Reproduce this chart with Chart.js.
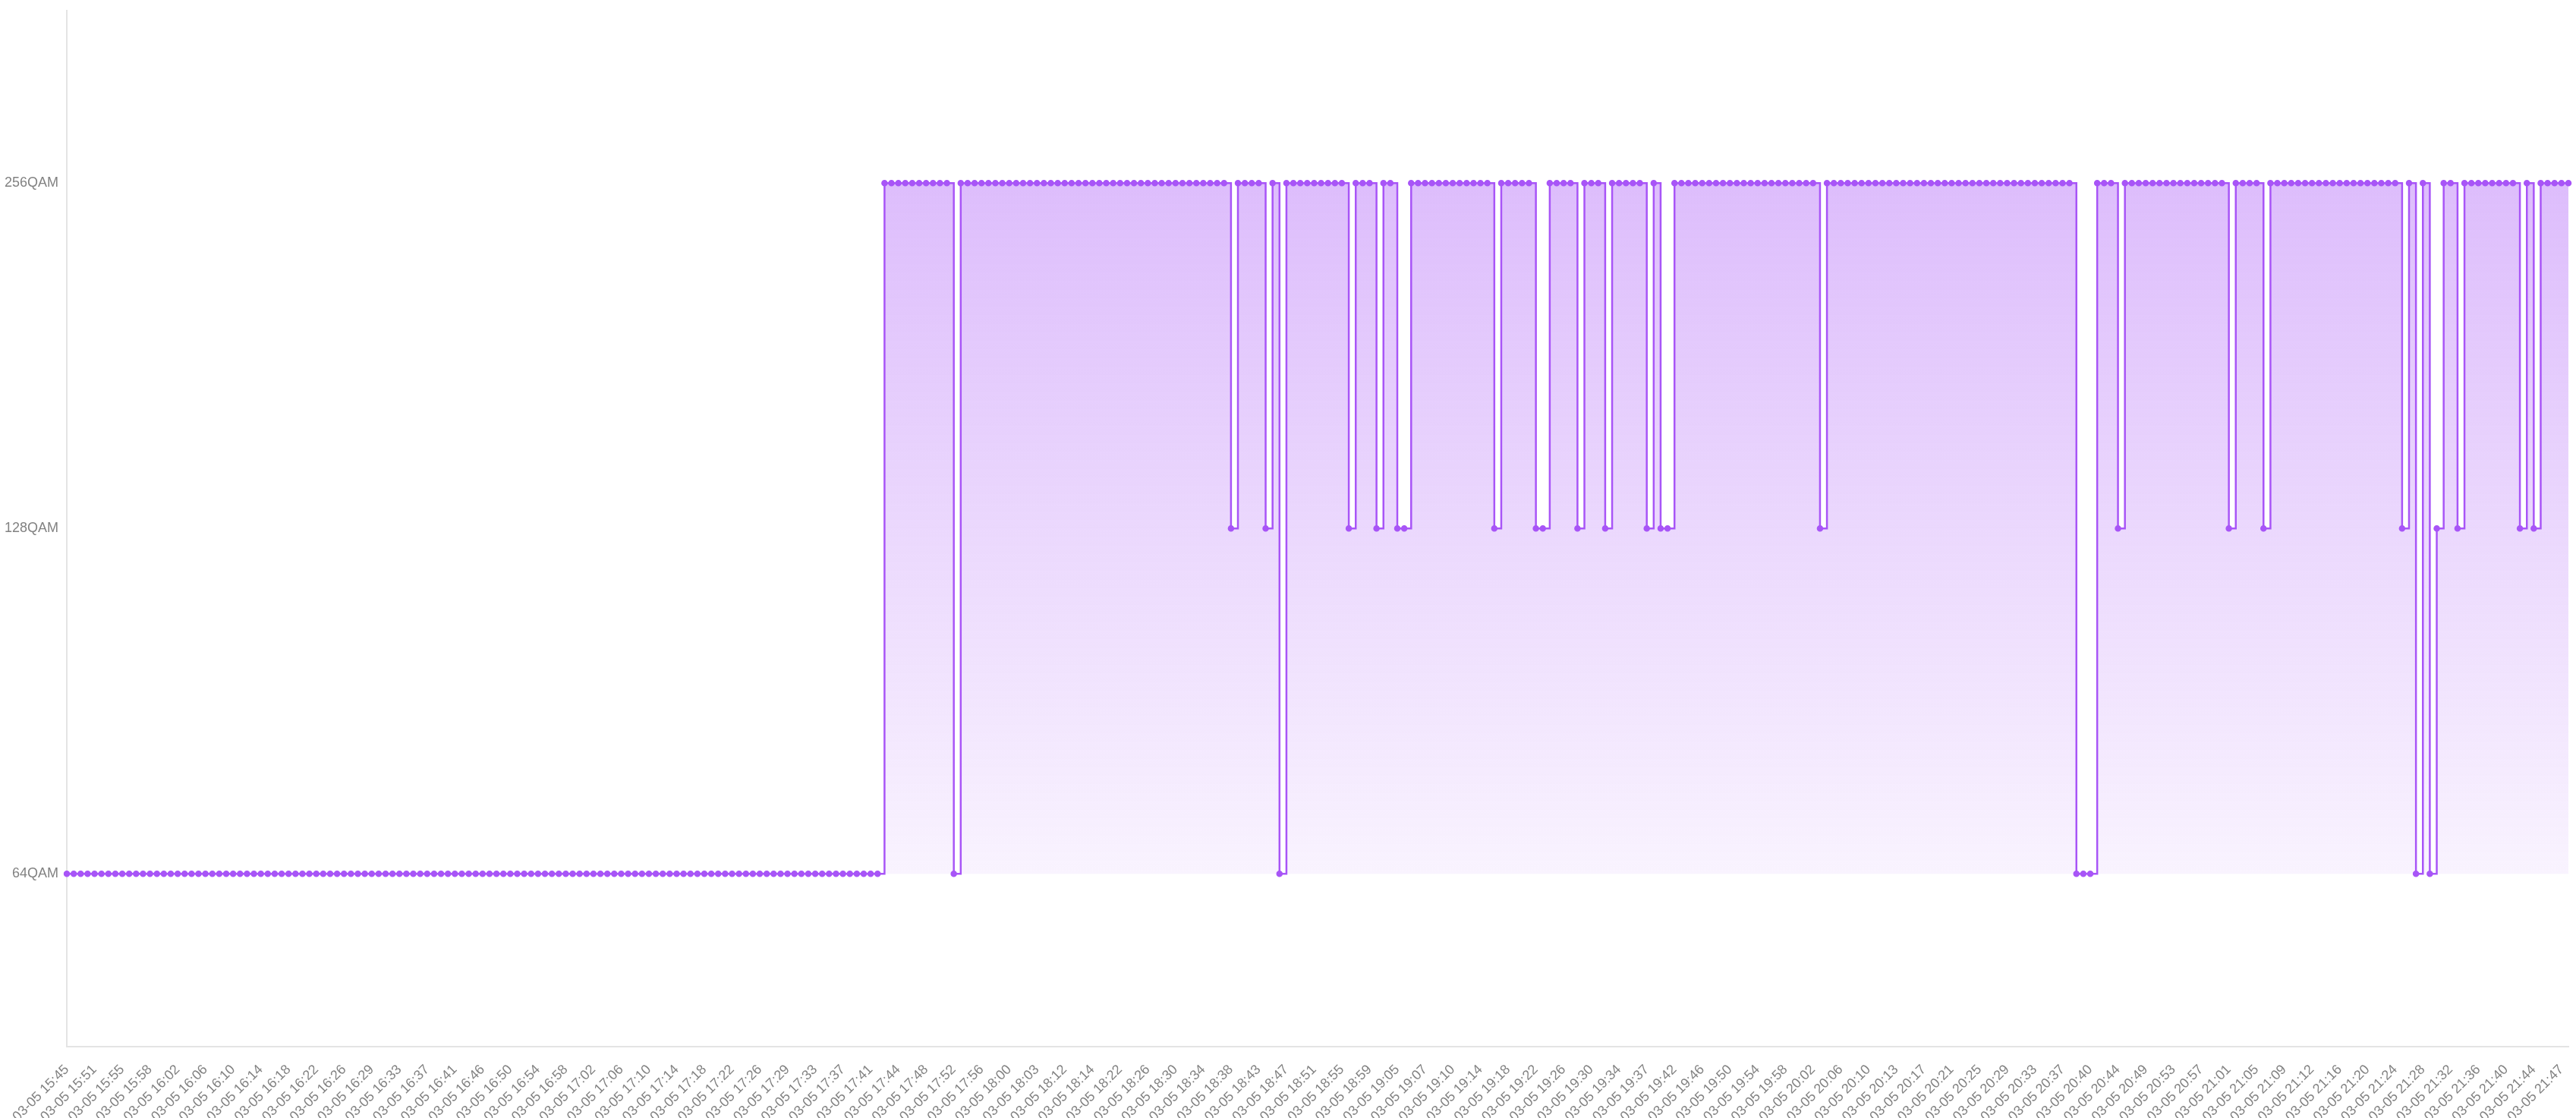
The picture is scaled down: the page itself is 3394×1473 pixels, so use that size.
<!DOCTYPE html>
<html>
<head>
<meta charset="utf-8">
<script src="https://cdn.jsdelivr.net/npm/chart.js@4.4.1/dist/chart.umd.min.js"></script>
<style>
  html, body { margin: 0; padding: 0; background: #ffffff; overflow: hidden; }
  #wrap { width: 3394px; height: 1473px; overflow: hidden; }
</style>
</head>
<body>
<div id="wrap"><canvas id="qamChart" width="3394" height="1494"></canvas></div>
<script>
// Modulacija po minutu (64 / 128 / 256 QAM)
let dan = "03-05";

// vidljive oznake na x osi (svaka 4. tacka)
let tickTimes = [
    "15:45", "15:51", "15:55", "15:58", "16:02", "16:06", "16:10", "16:14", "16:18", "16:22",
    "16:26", "16:29", "16:33", "16:37", "16:41", "16:46", "16:50", "16:54", "16:58", "17:02",
    "17:06", "17:10", "17:14", "17:18", "17:22", "17:26", "17:29", "17:33", "17:37", "17:41",
    "17:44", "17:48", "17:52", "17:56", "18:00", "18:03", "18:12", "18:14", "18:22", "18:26",
    "18:30", "18:34", "18:38", "18:43", "18:47", "18:51", "18:55", "18:59", "19:05", "19:07",
    "19:10", "19:14", "19:18", "19:22", "19:26", "19:30", "19:34", "19:37", "19:42", "19:46",
    "19:50", "19:54", "19:58", "20:02", "20:06", "20:10", "20:13", "20:17", "20:21", "20:25",
    "20:29", "20:33", "20:37", "20:40", "20:44", "20:49", "20:53", "20:57", "21:01", "21:05",
    "21:09", "21:12", "21:16", "21:20", "21:24", "21:28", "21:32", "21:36", "21:40", "21:44",
    "21:47"
];
let tickStep = 4;

// nivoi na y osi
let qamLevels = [64, 128, 256];

// izmerene vrednosti (red QAM) po tacki
let qamOrder = [
    64, 64, 64, 64, 64, 64, 64, 64, 64, 64,   // 0
    64, 64, 64, 64, 64, 64, 64, 64, 64, 64,
    64, 64, 64, 64, 64, 64, 64, 64, 64, 64,   // 20
    64, 64, 64, 64, 64, 64, 64, 64, 64, 64,
    64, 64, 64, 64, 64, 64, 64, 64, 64, 64,   // 40
    64, 64, 64, 64, 64, 64, 64, 64, 64, 64,
    64, 64, 64, 64, 64, 64, 64, 64, 64, 64,   // 60
    64, 64, 64, 64, 64, 64, 64, 64, 64, 64,
    64, 64, 64, 64, 64, 64, 64, 64, 64, 64,   // 80
    64, 64, 64, 64, 64, 64, 64, 64, 64, 64,
    64, 64, 64, 64, 64, 64, 64, 64, 64, 64,   // 100
    64, 64, 64, 64, 64, 64, 64, 64, 256, 256,
    256, 256, 256, 256, 256, 256, 256, 256, 64, 256,   // 120
    256, 256, 256, 256, 256, 256, 256, 256, 256, 256,
    256, 256, 256, 256, 256, 256, 256, 256, 256, 256,  // 140
    256, 256, 256, 256, 256, 256, 256, 256, 256, 256,
    256, 256, 256, 256, 256, 256, 256, 256, 128, 256,  // 160
    256, 256, 256, 128, 256, 64, 256, 256, 256, 256,
    256, 256, 256, 256, 256, 128, 256, 256, 256, 128,  // 180
    256, 256, 128, 128, 256, 256, 256, 256, 256, 256,
    256, 256, 256, 256, 256, 256, 128, 256, 256, 256,  // 200
    256, 256, 128, 128, 256, 256, 256, 256, 128, 256,
    256, 256, 128, 256, 256, 256, 256, 256, 128, 256,  // 220
    128, 128, 256, 256, 256, 256, 256, 256, 256, 256,
    256, 256, 256, 256, 256, 256, 256, 256, 256, 256,  // 240
    256, 256, 256, 128, 256, 256, 256, 256, 256, 256,
    256, 256, 256, 256, 256, 256, 256, 256, 256, 256,  // 260
    256, 256, 256, 256, 256, 256, 256, 256, 256, 256,
    256, 256, 256, 256, 256, 256, 256, 256, 256, 256,  // 280
    64, 64, 64, 256, 256, 256, 128, 256, 256, 256,
    256, 256, 256, 256, 256, 256, 256, 256, 256, 256,  // 300
    256, 256, 128, 256, 256, 256, 256, 128, 256, 256,
    256, 256, 256, 256, 256, 256, 256, 256, 256, 256,  // 320
    256, 256, 256, 256, 256, 256, 256, 128, 256, 64,
    256, 64, 128, 256, 256, 128, 256, 256, 256, 256,   // 340
    256, 256, 256, 256, 128, 256, 128, 256, 256, 256,
    256, 256                                           // 360
];

// kategorije: vidljive oznake + skrivene medjuminute
function uMinute(t) {
    let d = t.split(":");
    return parseInt(d[0]) * 60 + parseInt(d[1]);
}
function uVreme(m) {
    let h = Math.floor(m / 60);
    let mm = m % 60;
    return (h < 10 ? "0" : "") + h + ":" + (mm < 10 ? "0" : "") + mm;
}
let categories = [];
for (let i = 0; i < qamOrder.length; i++) {
    let k = Math.floor(i / tickStep);
    let j = i % tickStep;
    let m;
    if (k + 1 < tickTimes.length) {
        let a = uMinute(tickTimes[k]);
        let b = uMinute(tickTimes[k + 1]);
        m = a + Math.round(j * (b - a) / tickStep);
    } else {
        m = uMinute(tickTimes[tickTimes.length - 1]) + j;
    }
    categories.push(dan + " " + uVreme(m));
}

let ljubicasta = "#a855f7";
let sivaTekst = "#828282";
let sivaOsa = "#e4e4e4";
let font = { family: "'Liberation Sans', Arial, sans-serif", size: 18 };

let ctx = document.getElementById("qamChart").getContext("2d");

let qamChart = new Chart(ctx, {
    type: "line",
    data: {
        labels: categories,
        datasets: [{
            label: "QAM",
            data: qamOrder,
            stepped: true,
            borderColor: ljubicasta,
            borderWidth: 2.5,
            pointRadius: 3.5,
            pointBorderWidth: 1.5,
            pointBackgroundColor: ljubicasta,
            pointBorderColor: ljubicasta,
            fill: { value: 64 },
            backgroundColor: function (context) {
                let chart = context.chart;
                if (!chart.chartArea) {
                    return "rgba(168, 85, 247, 0.2)";
                }
                let y = chart.scales.y;
                let gore = y.getPixelForValue(256);
                let dole = y.getPixelForValue(64);
                let g = chart.ctx.createLinearGradient(0, gore, 0, dole);
                g.addColorStop(0, "rgba(168, 85, 247, 0.39)");
                g.addColorStop(1, "rgba(168, 85, 247, 0.07)");
                return g;
            }
        }]
    },
    options: {
        responsive: false,
        devicePixelRatio: 1,
        animation: false,
        layout: {
            padding: { left: 3, right: 10, top: 13, bottom: 0 }
        },
        plugins: {
            legend: { display: false },
            tooltip: { enabled: false }
        },
        scales: {
            x: {
                type: "category",
                offset: false,
                grid: { display: false },
                border: { display: true, color: sivaOsa, width: 2 },
                afterFit: function (axis) {
                    // poslednja oznaka je prazna, ne treba joj prostor desno
                    axis.paddingRight = 0;
                },
                ticks: {
                    autoSkip: false,
                    minRotation: 45,
                    maxRotation: 45,
                    padding: 12,
                    color: sivaTekst,
                    font: font,
                    callback: function (value, index) {
                        return index % tickStep === 0 ? categories[index] : "";
                    }
                }
            },
            y: {
                type: "logarithmic",
                min: qamLevels[0] / Math.SQRT2,
                max: qamLevels[qamLevels.length - 1] * Math.SQRT2,
                grid: { display: false },
                border: { display: true, color: sivaOsa, width: 2 },
                afterBuildTicks: function (axis) {
                    axis.ticks = qamLevels.map(function (v) { return { value: v }; });
                },
                ticks: {
                    color: sivaTekst,
                    font: font,
                    callback: function (value) {
                        return value + "QAM";
                    }
                }
            }
        }
    }
});
</script>
</body>
</html>
